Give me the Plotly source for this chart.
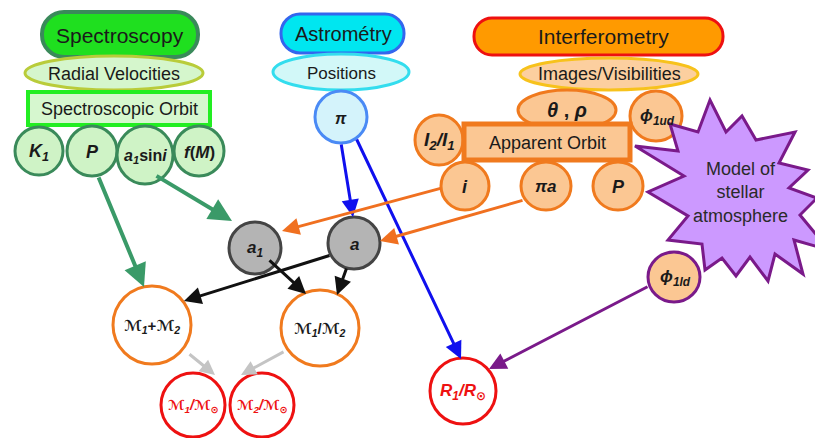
import plotly.graph_objects as go

# ---- diagram content (texts) ----
method_titles = ["Spectroscopy", "Astrométry", "Interferometry"]
observables = ["Radial Velocities", "Positions", "Images/Visibilities"]
orbit_labels = ["Spectroscopic Orbit", "Apparent Orbit"]
spectro_params = ["<b><i>K<sub>1</sub></i></b>", "<b><i>P</i></b>",
                  "<b><i>a<sub>1</sub></i>sin<i>i</i></b>", "<b><i>f</i>(<i>M</i>)</b>"]
astro_params = ["<b><i>π</i></b>"]
interf_params = ["<b><i>θ</i> , <i>ρ</i></b>", "<b><i>ϕ<sub>1ud</sub></i></b>",
                 "<b><i>I<sub>2</sub>/I<sub>1</sub></i></b>", "<b><i>i</i></b>",
                 "<b><i>πa</i></b>", "<b><i>P</i></b>"]
model_label = ["Model of<br>stellar<br>atmosphere"]
ld_label = ["<b><i>ϕ<sub>1ld</sub></i></b>"]
semi_axes = ["<b><i>a<sub>1</sub></i></b>", "<b><i>a</i></b>"]
mass_labels = ["<b><i>ℳ<sub>1</sub></i>+<i>ℳ<sub>2</sub></i></b>", "<b><i>ℳ<sub>1</sub></i>/<i>ℳ<sub>2</sub></i></b>"]
result_labels = ["<b><i>ℳ<sub>1</sub>/ℳ<sub>⊙</sub></i></b>", "<b><i>ℳ<sub>2</sub>/ℳ<sub>⊙</sub></i></b>",
                 "<b><i>R<sub>1</sub>/R<sub>⊙</sub></i></b>"]

FONT = "Liberation Sans, Arial, DejaVu Sans, sans-serif"

shapes = []
annots = []


def rrect(x0, y0, x1, y1, r, fill, line, lw):
    k = 0.45 * r
    p = (f"M{x0+r},{y0} L{x1-r},{y0} C{x1-k},{y0} {x1},{y0+k} {x1},{y0+r} L{x1},{y1-r} "
         f"C{x1},{y1-k} {x1-k},{y1} {x1-r},{y1} L{x0+r},{y1} C{x0+k},{y1} {x0},{y1-k} {x0},{y1-r} "
         f"L{x0},{y0+r} C{x0},{y0+k} {x0+k},{y0} {x0+r},{y0} Z")
    shapes.append(dict(type="path", path=p, fillcolor=fill, line=dict(color=line, width=lw),
                       xref="x", yref="y", layer="above"))


def rect(x0, y0, x1, y1, fill, line, lw):
    shapes.append(dict(type="rect", x0=x0, y0=y0, x1=x1, y1=y1, fillcolor=fill,
                       line=dict(color=line, width=lw), xref="x", yref="y", layer="above"))


def ell(cx, cy, rx, ry, fill, line, lw):
    shapes.append(dict(type="circle", x0=cx-rx, y0=cy-ry, x1=cx+rx, y1=cy+ry, fillcolor=fill,
                       line=dict(color=line, width=lw), xref="x", yref="y", layer="above"))


def text(x, y, t, size, color="#1a1a1a"):
    annots.append(dict(x=x, y=y, text=t, showarrow=False, xref="x", yref="y",
                       font=dict(family=FONT, size=size, color=color)))


def arrow(x0, y0, x1, y1, color, w, size=1.0):
    annots.append(dict(x=x1, y=y1, ax=x0, ay=y0, xref="x", yref="y", axref="x", ayref="y",
                       text="", showarrow=True, arrowhead=2, arrowsize=size, arrowwidth=w,
                       arrowcolor=color))


# ---- arrows ----
G = "#3a9a68"
arrow(90, 168, 136, 279, G, 4, 1.15)
arrow(147, 167, 224, 213, G, 4, 1.15)
arrow(333, 135, 345, 209, "#1010ee", 3, 1.15)
arrow(348, 130, 453, 351, "#1010ee", 3, 1.15)
arrow(434, 180, 274, 223, "#f07020", 3, 1.15)
arrow(516, 192, 372, 233, "#f07020", 3, 1.15)
arrow(323, 247, 176, 293, "#111111", 3, 1.15)
arrow(260, 251, 298, 286, "#111111", 3, 1.15)
arrow(339, 259, 329, 287, "#111111", 3, 1.15)
arrow(180, 345, 207, 367, "#c4c4c4", 3, 1.0)
arrow(277, 343, 233, 367, "#c4c4c4", 3, 1.0)
arrow(641, 278, 481, 361, "#7a1a8a", 3, 1.15)

# ---- Spectroscopy column ----
rrect(34, 4, 190, 49, 22, "#1fdf1f", "#3a8a5a", 4)
text(112, 27, method_titles[0], 21)
ell(106, 65, 89, 17, "#d5f6cc", "#b9cc3a", 3)
text(106, 66, observables[0], 18)
rect(20, 84, 202, 117, "#d6f7cf", "#22ee22", 4)
text(111, 101, orbit_labels[0], 18)
GF, GL = "#cff3c6", "#3a8a5a"
ell(31, 143, 24, 24, GF, GL, 3)
ell(84, 143, 25, 25, GF, GL, 3)
ell(191, 143, 25, 25, GF, GL, 3)
ell(137, 147, 28, 29, GF, GL, 3)
text(31, 144, spectro_params[0], 18)
text(84, 144, spectro_params[1], 18)
text(137, 148, spectro_params[2], 16)
text(191, 144, spectro_params[3], 17)

# ---- Astrometry column ----
rrect(273, 6, 396, 45, 19, "#00e6f0", "#3366ee", 3)
text(335, 26, method_titles[1], 20)
ell(333, 64, 68, 18, "#d2f8f8", "#33ddee", 3)
text(333, 65, observables[1], 17)
ell(333, 109, 26, 26, "#d4f3fb", "#4a8af5", 3)
text(333, 110, astro_params[0], 16)

# ---- Interferometry column ----
rrect(466, 10, 715, 47, 18, "#ff9a00", "#ee1010", 3)
text(595, 28, method_titles[2], 21)
ell(601, 66, 89, 16, "#fccf9f", "#f7c21c", 3)
text(601, 66, observables[2], 18)
OF, OL = "#fbc793", "#f07a1e"
ell(559, 102, 49, 20, OF, OL, 3)
text(559, 102, interf_params[0], 20)
ell(648, 108, 26, 25, OF, OL, 3)
text(649, 109, interf_params[1], 17)
ell(431, 132, 24, 25, OF, OL, 3)
text(431, 133, interf_params[2], 19)
rect(456, 116, 622, 152, OF, OL, 5)
text(539, 135, orbit_labels[1], 18)
ell(457, 178, 24, 24, OF, OL, 3)
ell(538, 178, 25, 24, OF, OL, 3)
ell(610, 178, 25, 24, OF, OL, 3)
text(457, 179, interf_params[3], 18)
text(538, 178, interf_params[4], 17)
text(610, 179, interf_params[5], 18)

# ---- model of stellar atmosphere (star) ----
star = [(627, 138), (670, 143), (662, 116), (690, 124), (702, 92), (718, 124), (734, 108),
        (748, 132), (787, 124), (771, 155), (800, 162), (781, 180), (809, 190), (792, 207),
        (821, 242), (786, 232), (795, 266), (767, 246), (760, 273), (742, 249), (728, 268),
        (714, 250), (697, 262), (694, 236), (660, 232), (680, 208), (640, 184), (676, 168)]
sp = "M" + " L".join(f"{x},{y}" for x, y in star) + " Z"
shapes.append(dict(type="path", path=sp, fillcolor="#cc99ff", line=dict(color="#7a1a8a", width=3),
                   xref="x", yref="y", layer="above"))
text(732, 184, model_label[0], 18, "#2a2a2a")
ell(666, 269, 26, 25, OF, "#7a1a8a", 3)
text(667, 270, ld_label[0], 17)

# ---- derived quantities ----
ell(247, 240, 26, 26, "#b4b4b4", "#444444", 3)
ell(346, 235, 26, 26, "#b4b4b4", "#444444", 3)
text(247, 241, semi_axes[0], 17)
text(346, 236, semi_axes[1], 17)
ell(144, 317, 39, 39, "white", "#f07a1e", 3)
ell(312, 320, 39, 38, "white", "#f07a1e", 3)
text(144, 318, mass_labels[0], 15)
text(312, 321, mass_labels[1], 15)
ell(185, 397, 32, 32, "white", "#ee1111", 3)
ell(254, 397, 32, 32, "white", "#ee1111", 3)
ell(455, 383, 33, 33, "white", "#ee1111", 3)
text(185, 398, result_labels[0], 14, "#ee1111")
text(254, 398, result_labels[1], 14, "#ee1111")
text(455, 384, result_labels[2], 17, "#ee1111")

fig = go.Figure(go.Scatter(x=[], y=[]))
fig.update_layout(
    width=823, height=438, margin=dict(l=0, r=0, t=0, b=0),
    paper_bgcolor="white", plot_bgcolor="white", showlegend=False,
    xaxis=dict(range=[0, 823], visible=False, fixedrange=True),
    yaxis=dict(range=[438, 0], visible=False, fixedrange=True),
    shapes=shapes, annotations=annots,
)
fig.write_html("out.html", config={"displayModeBar": False})
